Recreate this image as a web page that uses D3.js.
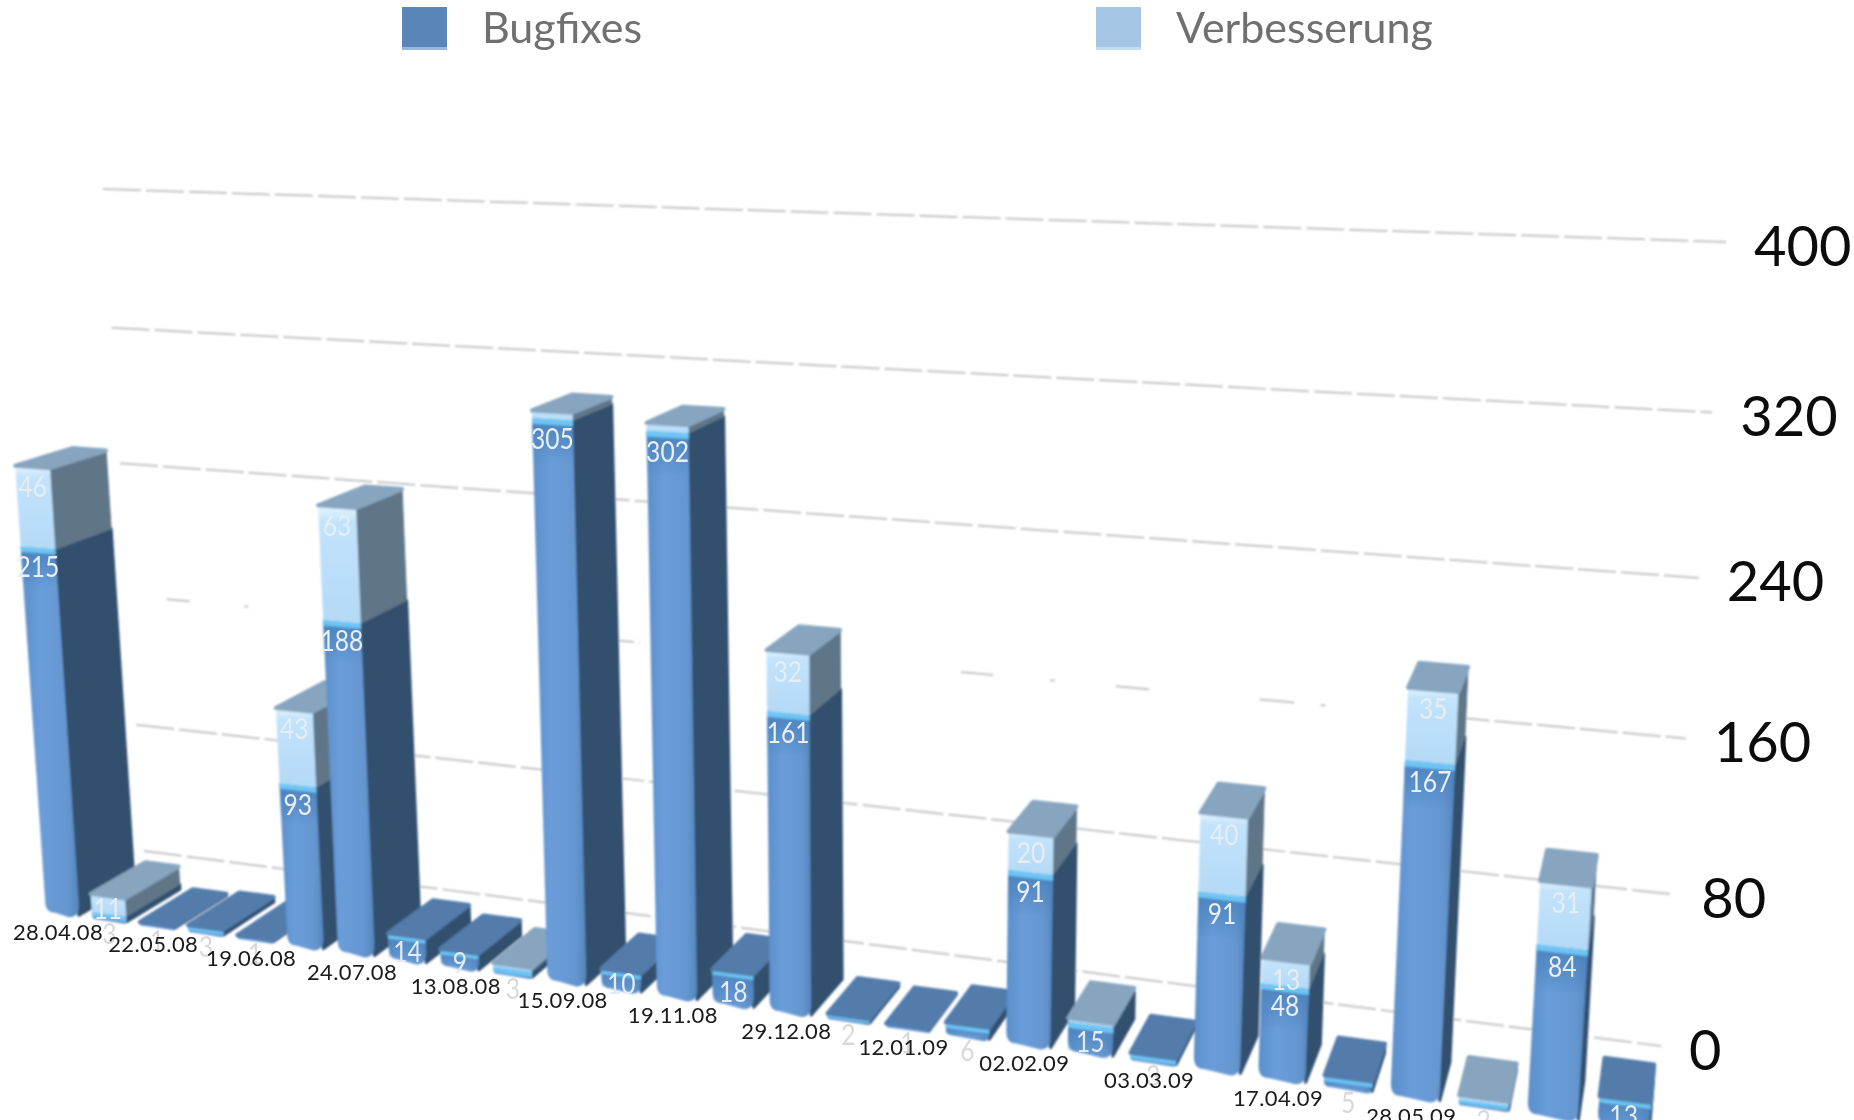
<!DOCTYPE html>
<html>
<head>
<meta charset="utf-8">
<script src="https://cdn.jsdelivr.net/npm/d3@7"></script>
<style>
  html, body { margin: 0; padding: 0; background: #fff; overflow: hidden; }
  text { font-family: Lato, "Open Sans", sans-serif; }
</style>
</head>
<body>
<div id="chart"></div>
<script>
const categories = ["28.04.08", "", "22.05.08", "", "19.06.08", "", "24.07.08", "", "13.08.08", "", "15.09.08", "", "19.11.08", "",
	"29.12.08", "", "12.01.09", "", "02.02.09", "", "03.03.09", "", "17.04.09", "", "28.05.09", "", "", ""];
const bugfixes = [215, 3, 1, 3, 1, 93, 188, 14, 9, 3, 305, 10, 302, 18, 161, 2, 1, 6, 91, 15, 3, 91, 48, 5, 167, 2, 84, 13];
const improvements = [46, 11, 0, 0, 0, 43, 63, 0, 0, 2, 4, 0, 4, 0, 32, 0, 0, 0, 20, 2, 0, 40, 13, 0, 35, 2, 31, 0];
const gridTicks = [0, 80, 160, 240, 320, 400];
// the 160 line only survives in bits on the left of the picture
const brokenTick = 160;
const brokenPieces = [[0.03, 0.048], [0.09, 0.093], [0.345, 0.375], [0.585, 0.605], [0.64, 0.643], [0.68, 0.7], [0.765, 0.785], [0.8, 0.803], [0.85, 1]];
const seriesNames = ["Bugfixes", "Verbesserung"];

const width = 1854, height = 1120;

const x = d3.scaleLinear().domain([0, 26]).range([0, 1]);
const y = d3.scaleLinear().domain([0, 400]).range([0, 1]);

// unit square -> quad, (u,v) = (0,0) (1,0) (1,1) (0,1)
function quadMap(p0, p1, p2, p3) {
	var dx1 = p1[0] - p2[0], dx2 = p3[0] - p2[0], sx = p0[0] - p1[0] + p2[0] - p3[0];
	var dy1 = p1[1] - p2[1], dy2 = p3[1] - p2[1], sy = p0[1] - p1[1] + p2[1] - p3[1];
	var den = dx1 * dy2 - dx2 * dy1;
	var g = (sx * dy2 - dx2 * sy) / den, h = (dx1 * sy - sx * dy1) / den;
	var a = p1[0] - p0[0] + g * p1[0], b = p3[0] - p0[0] + h * p3[0];
	var d = p1[1] - p0[1] + g * p1[1], e = p3[1] - p0[1] + h * p3[1];
	return (u, v) => {
		var w = g * u + h * v + 1;
		return [(a * u + b * v + p0[0]) / w, (d * u + e * v + p0[1]) / w];
	};
}

const front = quadMap([62, 913], [1553, 1116], [1600, 268], [16, 216]);
const wall = quadMap([144, 851], [1661, 1046], [1726, 242], [103, 189]);

// depth goes to one vanishing point up on the right
const vanish = [1748, -68];
const depth = 0.033;
function back(p) {
	return [p[0] + depth * (vanish[0] - p[0]), p[1] + depth * (vanish[1] - p[1])];
}

const barHalf = 0.36;

const svg = d3.select("#chart").append("svg")
	.attr("width", width)
	.attr("height", height);

const defs = svg.append("defs");

defs.append("filter").attr("id", "soft")
	.attr("filterUnits", "userSpaceOnUse")
	.attr("x", 0).attr("y", 0).attr("width", width).attr("height", height)
	.append("feGaussianBlur").attr("stdDeviation", 1.2);
defs.append("filter").attr("id", "softText")
	.attr("filterUnits", "userSpaceOnUse")
	.attr("x", 0).attr("y", 0).attr("width", width).attr("height", height)
	.append("feGaussianBlur").attr("stdDeviation", 0.7);

function gradient(id, x2, y2, stops) {
	var g = defs.append("linearGradient").attr("id", id)
		.attr("x1", 0).attr("y1", 0).attr("x2", x2).attr("y2", y2);
	stops.forEach(s => g.append("stop").attr("offset", s[0]).attr("stop-color", s[1]));
}
gradient("bugFront", 1, 0, [[0, "#5b8fca"], [0.35, "#6a9dd9"], [0.8, "#6596d0"], [1, "#5486bd"]]);
gradient("lightFront", 0, 1, [[0, "#e6f5ff"], [0.14, "#c2e3fc"], [1, "#b4d9f6"]]);
gradient("bugShade", 0, 1, [[0, "#4a82bc"], [1, "#4a82bc00"]]);

const chart = svg.append("g").attr("filter", "url(#soft)");

// gridlines
const gridGroup = chart.append("g");
gridTicks.forEach(t => {
	var v = y(t);
	var pieces = t === brokenTick ? brokenPieces : [[0, 1]];
	pieces.forEach(p => {
		var a = wall(p[0], v), b = wall(p[1], v);
		gridGroup.append("line")
			.attr("x1", a[0]).attr("y1", a[1])
			.attr("x2", b[0]).attr("y2", b[1])
			.attr("stroke", "#c4c4c4")
			.attr("stroke-width", 2)
			.attr("stroke-dasharray", "38 5");
	});
});

const poly = d3.line().curve(d3.curveLinearClosed);

function addPoly(g, pts, fill, round) {
	return g.append("path")
		.attr("d", poly(pts))
		.attr("fill", fill)
		.attr("stroke", round ? fill : "none")
		.attr("stroke-width", round || 0)
		.attr("stroke-linejoin", "round");
}

function roundedFront(tl, tr, br, bl) {
	var r = Math.min(10, Math.abs(bl[1] - tl[1]) / 2);
	var path = d3.path();
	path.moveTo(tl[0], tl[1]);
	path.lineTo(tr[0], tr[1]);
	path.lineTo(br[0], br[1] - r);
	path.quadraticCurveTo(br[0], br[1] + 2, br[0] - r, br[1] + 2);
	path.lineTo(bl[0] + r, bl[1] + 2);
	path.quadraticCurveTo(bl[0], bl[1] + 2, bl[0], bl[1] - r);
	path.closePath();
	return path.toString();
}

const barGroup = chart.append("g");

categories.forEach((c, i) => {
	var g = barGroup.append("g");
	var u0 = x(i - barHalf), u1 = x(i + barHalf);
	var bug = bugfixes[i], imp = improvements[i];

	// bugfix segment
	var tl = front(u0, y(bug)), tr = front(u1, y(bug));
	var bl = front(u0, 0), br = front(u1, 0);
	addPoly(g, [tr, back(tr), back(br), br], "#334f6e", 3);
	g.append("path").attr("d", roundedFront(tl, tr, br, bl)).attr("fill", "url(#bugFront)");
	var shadeEnd = Math.max(bug - 22, 0);
	addPoly(g, [tl, tr, front(u1, y(shadeEnd)), front(u0, y(shadeEnd))], "url(#bugShade)");
	var band = Math.max(bug - 3, 0);
	addPoly(g, [tl, tr, front(u1, y(band)), front(u0, y(band))], "#6cc5f5");

	var total = bug + imp;
	var ttl = tl, ttr = tr;
	if (imp > 0) {
		ttl = front(u0, y(total));
		ttr = front(u1, y(total));
		addPoly(g, [ttr, back(ttr), back(tr), tr], "#5f7688", 1);
		addPoly(g, [ttl, ttr, tr, tl], "url(#lightFront)");
	}
	addPoly(g, [ttl, ttr, back(ttr), back(ttl)], imp > 0 ? "#87a5bf" : "#527cab", 4);
});

// numbers on the bars
const valueGroup = svg.append("g").attr("filter", "url(#softText)");

function addValue(pos, value, fill) {
	valueGroup.append("text")
		.attr("transform", `translate(${pos[0]},${pos[1]}) scale(0.88,1)`)
		.attr("text-anchor", "middle")
		.attr("dominant-baseline", "central")
		.attr("font-size", 28)
		.attr("fill", fill)
		.text(value);
}

categories.forEach((c, i) => {
	var bug = bugfixes[i], imp = improvements[i];
	var top = front(x(i), y(bug));
	if (bug >= 40) {
		addValue([top[0], top[1] + 19], bug, "#e9eff5");
	} else if (bug >= 9) {
		var base = front(x(i), 0);
		addValue([base[0], (top[1] + base[1]) / 2 + 3], bug, "#e4ebf2");
	} else {
		var b = front(x(i), 0);
		addValue([b[0], b[1] + 14], bug, "#d9d9d9");
	}
	if (imp >= 11) {
		var t = front(x(i), y(bug + imp));
		addValue([t[0], t[1] + (imp < 13 ? 12 : 19)], imp, "#e6edf3");
	}
});

// date labels under every second bar
const dateGroup = svg.append("g").attr("filter", "url(#softText)");
categories.forEach((c, i) => {
	if (!c) return;
	var p = front(x(i), 0);
	dateGroup.append("text")
		.attr("x", p[0] - 4)
		.attr("y", p[1] + 18)
		.attr("text-anchor", "middle")
		.attr("dominant-baseline", "central")
		.attr("font-size", 22)
		.attr("letter-spacing", 0.4)
		.attr("fill", "#1a1a1a")
		.text(c);
});

// value axis labels on the right end of the gridlines
const tickGroup = svg.append("g");
gridTicks.forEach(t => {
	var p = wall(1, y(t));
	tickGroup.append("text")
		.attr("x", p[0] + 28)
		.attr("y", p[1] + 2)
		.attr("dominant-baseline", "central")
		.attr("font-size", 56)
		.attr("fill", "#0c0c0c")
		.text(t);
});

// legend
const legend = svg.append("g").attr("filter", "url(#softText)");
const legendFill = ["#5a85b8", "#a5c6e4"];
const legendEdge = ["#9ab7d9", "#c6ddf0"];
const legendX = d3.scalePoint().domain(seriesNames).range([402, 1096]);
seriesNames.forEach((name, i) => {
	var lx = legendX(name);
	legend.append("rect").attr("x", lx).attr("y", 7).attr("width", 45).attr("height", 40).attr("fill", legendFill[i]);
	legend.append("rect").attr("x", lx).attr("y", 47).attr("width", 45).attr("height", 3).attr("fill", legendEdge[i]);
	legend.append("text")
		.attr("x", lx + 80)
		.attr("y", 43)
		.attr("font-size", 43)
		.attr("fill", "#6f6f6f")
		.text(name);
});
</script>
</body>
</html>
